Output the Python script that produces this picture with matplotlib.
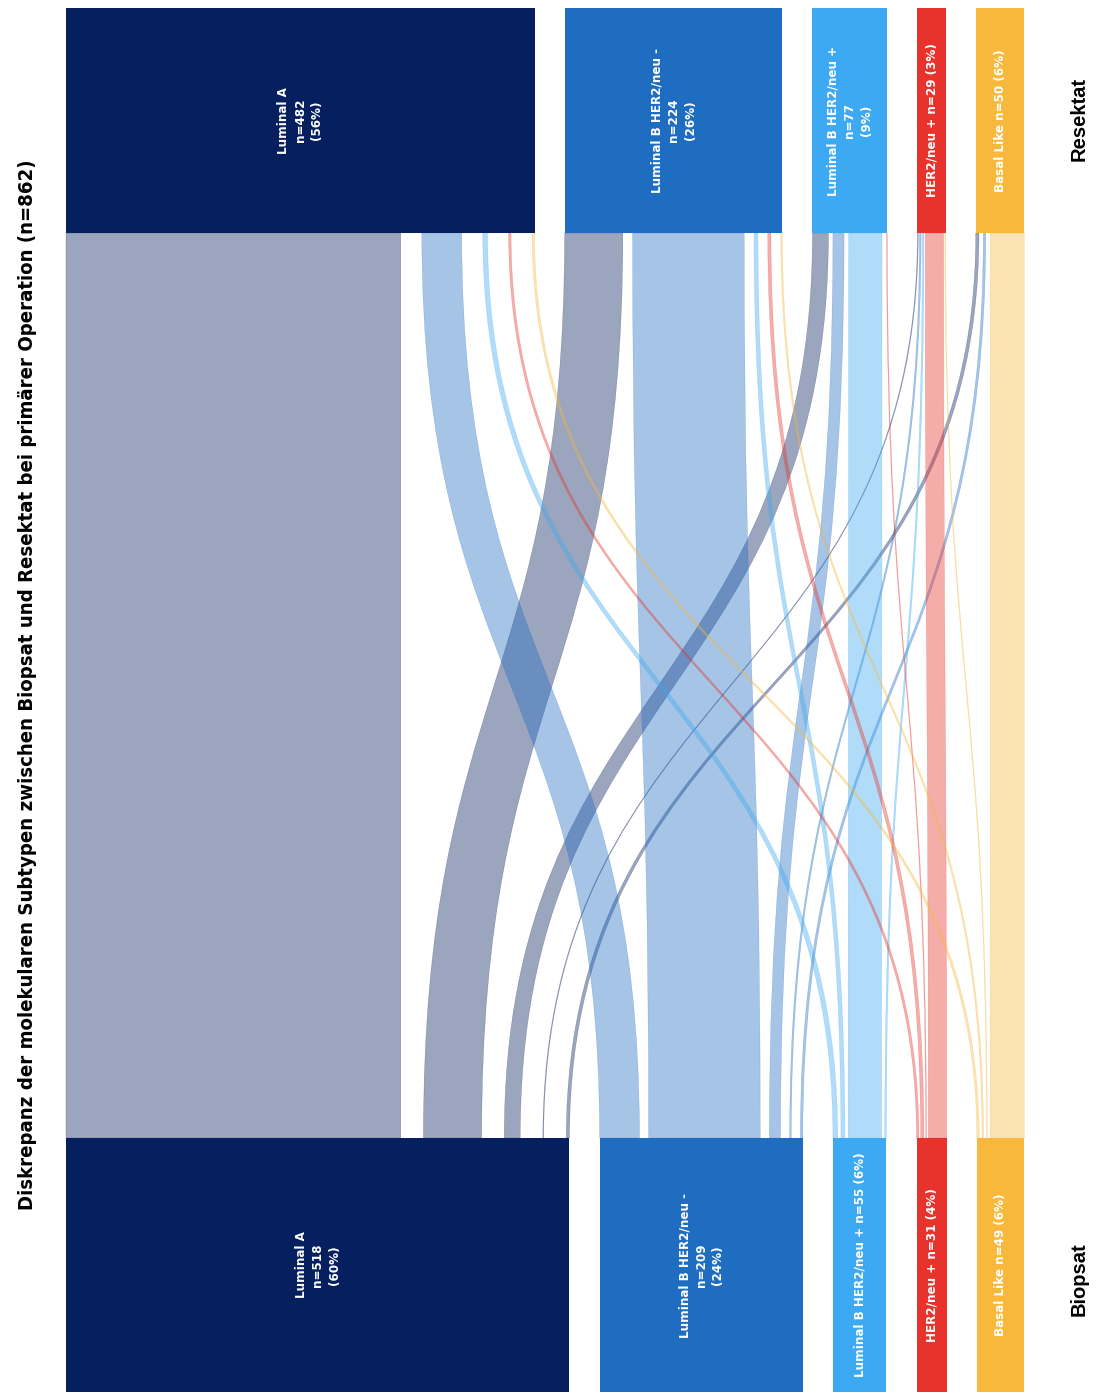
import matplotlib
matplotlib.use("Agg")
import matplotlib.pyplot as plt
from matplotlib.path import Path
from matplotlib.patches import PathPatch, Rectangle
from matplotlib import font_manager
from matplotlib.font_manager import FontProperties
import numpy as np

TITLE = "Diskrepanz der molekularen Subtypen zwischen Biopsat und Resektat bei primärer Operation (n=862)"
SUBTYPES = ["Luminal A", "Luminal B HER2/neu -", "Luminal B HER2/neu +", "HER2/neu +", "Basal Like"]
NODE_COLORS = ["#061F5E", "#1F6DC1", "#3DA9F2", "#E8332C", "#F7B83C"]
BIOPSAT_N = [518, 209, 55, 31, 49]
RESEKTAT_N = [482, 224, 77, 29, 50]
# Zeilen = Biopsat (Quelle), Spalten = Resektat (Ziel)
FLOWS = np.array([
    [420, 73, 20, 1, 4],
    [50, 140, 14, 2, 3],
    [6, 5, 42, 2, 0],
    [3, 4, 1, 23, 0],
    [3, 2, 0, 1, 43],
])
WRAP_TOP = [True, True, True, False, False]
WRAP_BOTTOM = [True, True, False, False, False]

# layout
W, H = 1098, 1392
PX_PER_N = 0.972      # pixel pro Fall (Knoten)
LEFT = 66             # linker Rand in px
GAP_N = 31            # Abstand zwischen Knoten (Fälle)
FLOW_SCALE = 0.82     # Bänder schmaler als Knoten
Y_BOT = (0, 254)      # Biopsat-Band
Y_TOP = (1159, 1384)  # Resektat-Band


def narrow_bold():
    """schmale fette Schrift suchen, sonst None."""
    best = None
    for f in font_manager.fontManager.ttflist:
        narrow = ("Narrow" in f.name or "Condensed" in f.name
                  or f.stretch in ("condensed", "semi-condensed"))
        bold = f.weight in (700, "bold") or "Bold" in f.fname
        if narrow and bold:
            if best is None or "Liberation" in f.name:
                best = f.fname
    return best


NB = narrow_bold()


def fp(size, narrow=True):
    if narrow and NB:
        return FontProperties(fname=NB, size=size)
    return FontProperties(family="DejaVu Sans", weight="bold", size=size)


def node_pos(counts):
    x, out = 0.0, []
    for c in counts:
        out.append((x, x + c))
        x += c + GAP_N
    return out


def spread(node, widths):
    """Bänder im Knoten verteilen (space-between)."""
    x0, x1 = node
    idx = [k for k, w in enumerate(widths) if w > 0]
    tot = sum(widths[k] for k in idx)
    g = (x1 - x0 - tot) / (len(idx) - 1) if len(idx) > 1 else 0
    pos, x = {}, x0
    for k in idx:
        pos[k] = (x, x + widths[k])
        x += widths[k] + g
    return pos


bot_nodes = node_pos(BIOPSAT_N)
top_nodes = node_pos(RESEKTAT_N)
fw = FLOWS * FLOW_SCALE
bot_slots = [spread(bot_nodes[i], list(fw[i, :])) for i in range(5)]
top_slots = [spread(top_nodes[j], list(fw[:, j])) for j in range(5)]

fig = plt.figure(figsize=(W / 100, H / 100), dpi=100)
ax = fig.add_axes([0, 0, 1, 1])
ax.set_xlim(-LEFT / PX_PER_N, (W - LEFT) / PX_PER_N)
ax.set_ylim(0, H)
ax.axis("off")

yb, yt = Y_BOT[1], Y_TOP[0]
ym = (yb + yt) / 2
for i in range(5):
    for j in range(5):
        if FLOWS[i, j] <= 0:
            continue
        b0, b1 = bot_slots[i][j]
        t0, t1 = top_slots[j][i]
        verts = [(b0, yb), (b0, ym), (t0, ym), (t0, yt),
                 (t1, yt), (t1, ym), (b1, ym), (b1, yb), (b0, yb)]
        codes = [Path.MOVETO, Path.CURVE4, Path.CURVE4, Path.CURVE4,
                 Path.LINETO, Path.CURVE4, Path.CURVE4, Path.CURVE4, Path.CLOSEPOLY]
        ax.add_patch(PathPatch(Path(verts, codes), facecolor=NODE_COLORS[i],
                               edgecolor=NODE_COLORS[i], lw=0.3, alpha=0.4, zorder=2))

total = sum(BIOPSAT_N)
lab_fs = 9.5 if NB else 8.5
for nodes, counts, wrap, (y0, y1) in [(top_nodes, RESEKTAT_N, WRAP_TOP, Y_TOP),
                                      (bot_nodes, BIOPSAT_N, WRAP_BOTTOM, Y_BOT)]:
    for k, ((x0, x1), n) in enumerate(zip(nodes, counts)):
        ax.add_patch(Rectangle((x0, y0), x1 - x0, y1 - y0, facecolor=NODE_COLORS[k],
                               edgecolor="none", zorder=3))
        pct = round(100 * n / total)
        sep = "\n" if wrap[k] else " "
        txt = f"{SUBTYPES[k]}{sep}n={n}{sep}({pct}%)"
        ax.text((x0 + x1) / 2, (y0 + y1) / 2, txt, rotation=90, ha="center", va="center",
                multialignment="center", color="white", fontproperties=fp(lab_fs),
                linespacing=1.35, zorder=4)

xr = (1079 - LEFT) / PX_PER_N
side = FontProperties(family="Liberation Sans", weight="bold", size=14.5)
ax.text(xr, H - 119, "Resektat", rotation=90, ha="center", va="center", fontproperties=side)
ax.text(xr, H - 1279, "Biopsat", rotation=90, ha="center", va="center", fontproperties=side)

ax.text((28 - LEFT) / PX_PER_N, H - 685, TITLE, rotation=90, ha="center", va="center",
        fontproperties=fp(14.6 if NB else 12.5))

fig.savefig("out.png", dpi=100)
